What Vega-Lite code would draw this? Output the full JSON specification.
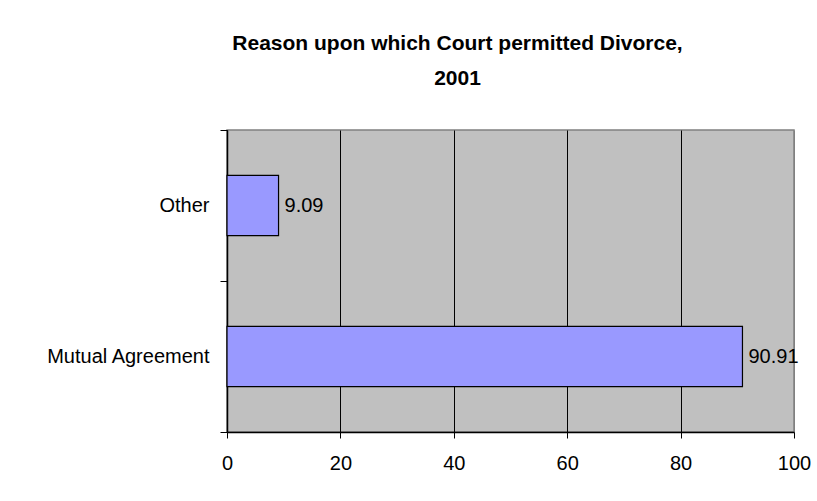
{
  "$schema": "https://vega.github.io/schema/vega-lite/v6.json",
  "autosize": "none",
  "width": 567,
  "height": 302,
  "padding": {"left": 227, "top": 130, "right": 23, "bottom": 69},
  "background": "white",
  "title": {
    "text": ["Reason upon which Court permitted Divorce,", "2001"],
    "font": "Liberation Sans",
    "fontSize": 21,
    "fontWeight": "bold",
    "color": "black",
    "anchor": "middle",
    "frame": "group",
    "dx": -53,
    "lineHeight": 35,
    "offset": 31
  },
  "data": {
    "values": [
      {"reason": "Mutual Agreement", "percent": 90.91},
      {"reason": "Other", "percent": 9.09}
    ]
  },
  "encoding": {
    "y": {
      "field": "reason",
      "type": "nominal",
      "sort": ["Other", "Mutual Agreement"],
      "scale": {"paddingInner": 0, "paddingOuter": 0},
      "axis": {
        "title": null,
        "domainColor": "black",
        "domainWidth": 1.5,
        "tickColor": "black",
        "tickSize": 7,
        "tickBand": "extent",
        "labelPadding": 11,
        "labelFont": "Liberation Sans",
        "labelFontSize": 20,
        "labelColor": "black",
        "grid": false
      }
    },
    "x": {
      "field": "percent",
      "type": "quantitative",
      "scale": {"domain": [0, 100], "nice": false},
      "axis": {
        "title": null,
        "values": [0, 20, 40, 60, 80, 100],
        "domainColor": "black",
        "domainWidth": 1.5,
        "tickColor": "black",
        "tickSize": 6,
        "labelPadding": 15,
        "labelFont": "Liberation Sans",
        "labelFontSize": 20,
        "labelColor": "black",
        "labelFlush": false,
        "grid": true,
        "gridColor": {"condition": {"test": "datum.value === 100", "value": "#808080"}, "value": "black"},
        "gridOpacity": 1
      }
    }
  },
  "layer": [
    {
      "mark": {"type": "bar", "fill": "#9999FF", "stroke": "black", "strokeWidth": 1.2, "height": {"band": 0.4}}
    },
    {
      "mark": {"type": "text", "align": "left", "dx": 6, "font": "Liberation Sans", "fontSize": 20, "color": "black"},
      "encoding": {"text": {"field": "percent", "type": "quantitative", "format": ".2f"}}
    }
  ],
  "config": {
    "view": {"fill": "#C0C0C0", "stroke": "#808080", "strokeWidth": 1.5}
  }
}
